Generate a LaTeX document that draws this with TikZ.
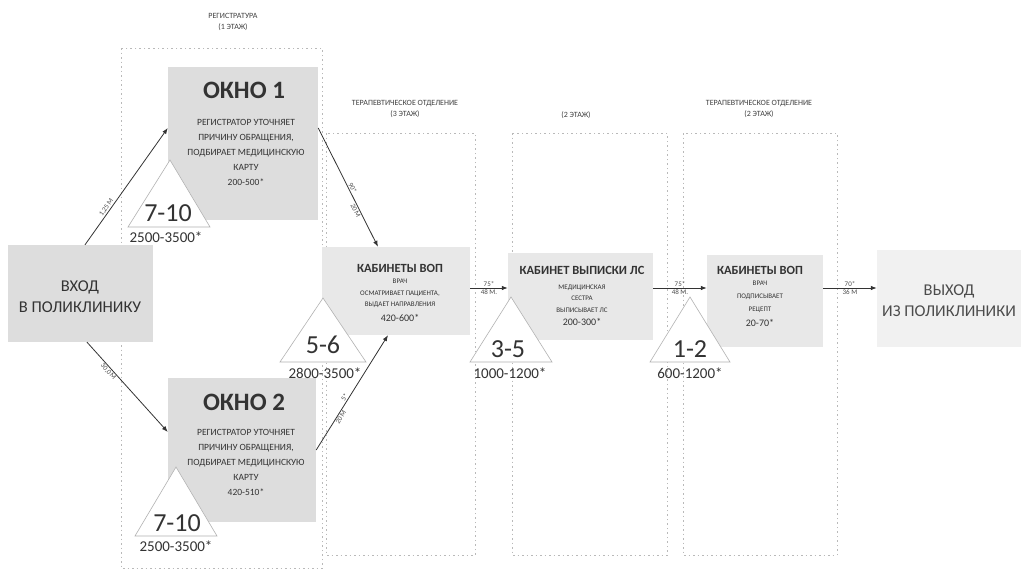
\documentclass[tikz,border=0pt]{standalone}
\usepackage{fontspec}
\setmainfont{Carlito}
\usetikzlibrary{arrows.meta,calc}
\definecolor{txt}{HTML}{333333}
\definecolor{boxA}{HTML}{DDDDDD}
\definecolor{boxB}{HTML}{E8E8E8}
\definecolor{boxC}{HTML}{F1F1F1}
\begin{document}
\begin{tikzpicture}[x=1pt,y=-1pt,
  every node/.style={text=txt},
  box/.style={draw=none, fill=boxB, inner sep=0pt},
  secbox/.style={draw=gray!55, dash pattern=on 1.5pt off 3pt, line width=0.8pt},
  arr/.style={-{Latex[length=6pt,width=4.5pt]}, draw=black!80, line width=0.8pt},
  lbl/.style={font=\fontsize{7}{8}\selectfont, text=black!70, inner sep=1pt},
  tri/.style={draw=gray!60, fill=white, line width=0.6pt},
  bigtitle/.style={font=\bfseries\fontsize{25}{25}\selectfont},
  bignum/.style={font=\fontsize{26}{26}\selectfont},
  rangetext/.style={font=\fontsize{15}{15}\selectfont},
  body/.style={font=\fontsize{9.5}{15}\selectfont, align=center},
  small/.style={font=\fontsize{7}{11.5}\selectfont, align=center},
  midtitle/.style={font=\bfseries\fontsize{12.5}{14}\selectfont},
  sec/.style={font=\fontsize{8}{11}\selectfont, align=center, text=black!75},
  ends/.style={font=\fontsize{16.5}{21}\selectfont, align=center}
]
\useasboundingbox (0,0) rectangle (1021,573);
\fill[white] (0,0) rectangle (1021,573);

% section frames
\draw[secbox] (121,48) rectangle (322,568);
\draw[secbox] (326,133) rectangle (475,555);
\draw[secbox] (512,133) rectangle (667,555);
\draw[secbox] (683,133) rectangle (837,555);

\node[sec] (s1) at (233,22) {РЕГИСТРАТУРА\\(1 ЭТАЖ)};
\node[sec] (s2) at (405,109) {ТЕРАПЕВТИЧЕСКОЕ ОТДЕЛЕНИЕ\\(3 ЭТАЖ)};
\node[sec] (s3) at (576,115) {(2 ЭТАЖ)};
\node[sec] (s4) at (759,109) {ТЕРАПЕВТИЧЕСКОЕ ОТДЕЛЕНИЕ\\(2 ЭТАЖ)};

% boxes
\node[box, fill=boxA, minimum width=145pt, minimum height=97pt] (vhod) at (80.5,293.5) {};
\node[box, fill=boxA, minimum width=150pt, minimum height=153pt] (okno1) at (243,143.5) {};
\node[box, fill=boxA, minimum width=148pt, minimum height=144pt] (okno2) at (242,450) {};
\node[box, minimum width=148pt, minimum height=88pt] (vop1) at (396,291) {};
\node[box, minimum width=145pt, minimum height=87pt] (vyp) at (580.5,296.5) {};
\node[box, minimum width=116pt, minimum height=92pt] (vop2) at (765,301) {};
\node[box, fill=boxC, minimum width=144pt, minimum height=97pt] (vyh) at (949,298.5) {};

% triangles
\draw[tri] (170,160) -- (210,227) -- (128,227) -- cycle;
\draw[tri] (176,467) -- (217,536) -- (135,536) -- cycle;
\draw[tri] (323,298) -- (366,362) -- (280,362) -- cycle;
\draw[tri] (511,297) -- (552,362) -- (470,362) -- cycle;
\draw[tri] (690,297) -- (730,362) -- (650,362) -- cycle;

% texts in boxes
\node[ends] (vhodt) at (80,297) {ВХОД\\В ПОЛИКЛИНИКУ};
\node[ends, text=black!70] (vyht) at (949,301) {ВЫХОД\\ИЗ ПОЛИКЛИНИКИ};

\node[bigtitle] (o1t) at (244,90) {ОКНО 1};
\node[body] (o1b) at (246,152) {РЕГИСТРАТОР УТОЧНЯЕТ\\ПРИЧИНУ ОБРАЩЕНИЯ,\\ПОДБИРАЕТ МЕДИЦИНСКУЮ\\КАРТУ\\200-500*};
\node[bigtitle] (o2t) at (244,402) {ОКНО 2};
\node[body] (o2b) at (246,462) {РЕГИСТРАТОР УТОЧНЯЕТ\\ПРИЧИНУ ОБРАЩЕНИЯ,\\ПОДБИРАЕТ МЕДИЦИНСКУЮ\\КАРТУ\\420-510*};

\node[midtitle] (v1t) at (400,268) {КАБИНЕТЫ ВОП};
\node[small] (v1b) at (400,293.5) {ВРАЧ\\ОСМАТРИВАЕТ ПАЦИЕНТА,\\ВЫДАЕТ НАПРАВЛЕНИЯ};
\node[font=\fontsize{10}{12}\selectfont] (v1r) at (400,318) {420-600*};

\node[midtitle] (ypt) at (582,270) {КАБИНЕТ ВЫПИСКИ ЛС};
\node[small] (ypb) at (582,298.5) {МЕДИЦИНСКАЯ\\СЕСТРА\\ВЫПИСЫВАЕТ ЛС};
\node[font=\fontsize{10}{12}\selectfont] (ypr) at (582,322) {200-300*};

\node[midtitle] (v2t) at (760,270) {КАБИНЕТЫ ВОП};
\node[font=\fontsize{7}{13}\selectfont, align=center] (v2b) at (760,297) {ВРАЧ\\ПОДПИСЫВАЕТ\\РЕЦЕПТ};
\node[font=\fontsize{10}{12}\selectfont] (v2r) at (760,323) {20-70*};

% triangle numbers
\node[bignum] (n1) at (168,213) {7-10};
\node[rangetext] (r1) at (166,237) {2500-3500*};
\node[bignum] (n2) at (177,523) {7-10};
\node[rangetext] (r2) at (176,546) {2500-3500*};
\node[bignum] (n3) at (323,345) {5-6};
\node[rangetext] (r3) at (325,373) {2800-3500*};
\node[bignum] (n4) at (508,349) {3-5};
\node[rangetext] (r4) at (510,373) {1000-1200*};
\node[bignum] (n5) at (690,349) {1-2};
\node[rangetext] (r5) at (690,373) {600-1200*};

% connectors
\coordinate (hline) at (0,288);
\draw[arr] ([xshift=4.5pt]vhod.north) -- node[lbl, sloped, above, pos=0.3] {1,25\,М} ([yshift=15.5pt]okno1.west);
\draw[arr] ([xshift=6.5pt]vhod.south) -- node[lbl, sloped, below, pos=0.3] {30,0\,М} ([yshift=18pt]okno2.west);
\draw[arr] ([yshift=15.5pt]okno1.east) -- node[lbl, sloped, above, pos=0.52] {90*} node[lbl, sloped, below, pos=0.68] {20\,М} ([xshift=-18pt]vop1.north);
\draw[arr] (okno2.east) -- node[lbl, sloped, above, pos=0.44] {5*} node[lbl, sloped, below, pos=0.3] {20\,М} ([xshift=-8pt]vop1.south);
\draw[arr] (vop1.east |- hline) -- node[lbl, above] {75*} node[lbl, below] {48 М.} (vyp.west |- hline);
\draw[arr] (vyp.east |- hline) -- node[lbl, above] {75*} node[lbl, below] {48 М.} (vop2.west |- hline);
\draw[arr] (vop2.east |- hline) -- node[lbl, above] {70*} node[lbl, below] {36 М} (vyh.west |- hline);
\end{tikzpicture}
\end{document}
